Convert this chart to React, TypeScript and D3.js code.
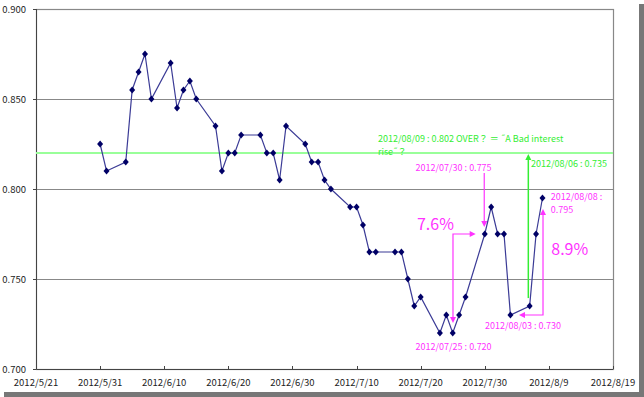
import React, { useEffect, useRef } from 'react';
import * as d3 from 'd3';

// daily closes
const dates = [
  '2012/05/31', '2012/06/01', '2012/06/04', '2012/06/05', '2012/06/06', '2012/06/07', '2012/06/08',
  '2012/06/11', '2012/06/12', '2012/06/13', '2012/06/14', '2012/06/15',
  '2012/06/18', '2012/06/19', '2012/06/20', '2012/06/21', '2012/06/22',
  '2012/06/25', '2012/06/26', '2012/06/27', '2012/06/28', '2012/06/29',
  '2012/07/02', '2012/07/03', '2012/07/04', '2012/07/05', '2012/07/06',
  '2012/07/09', '2012/07/10', '2012/07/11', '2012/07/12', '2012/07/13',
  '2012/07/16', '2012/07/17', '2012/07/18', '2012/07/19', '2012/07/20',
  '2012/07/23', '2012/07/24', '2012/07/25', '2012/07/26', '2012/07/27',
  '2012/07/30', '2012/07/31', '2012/08/01', '2012/08/02', '2012/08/03',
  '2012/08/06', '2012/08/07', '2012/08/08',
];
const values = [
  0.825, 0.81, 0.815, 0.855, 0.865, 0.875, 0.85,
  0.87, 0.845, 0.855, 0.86, 0.85,
  0.835, 0.81, 0.82, 0.82, 0.83,
  0.83, 0.82, 0.82, 0.805, 0.835,
  0.825, 0.815, 0.815, 0.805, 0.8,
  0.79, 0.79, 0.78, 0.765, 0.765,
  0.765, 0.765, 0.75, 0.735, 0.74,
  0.72, 0.73, 0.72, 0.73, 0.74,
  0.775, 0.79, 0.775, 0.775, 0.73,
  0.735, 0.775, 0.795,
];

const xTicks = ['2012/5/21', '2012/5/31', '2012/6/10', '2012/6/20', '2012/6/30', '2012/7/10', '2012/7/20', '2012/7/30', '2012/8/9', '2012/8/19'];
const yTicks = [0.7, 0.75, 0.8, 0.85, 0.9];
const threshold = 0.82;

// annotation texts (date anchor, value anchor)
const greenNotes = [
  { text: '2012/08/09 : 0.802 OVER？ ＝ ˝A Bad interest', d: '2012/07/13 08', v: 0.8261 },
  { text: 'rise˝？', d: '2012/07/13 08', v: 0.8189 },
  { text: '2012/08/06 : 0.735', d: '2012/08/06 05', v: 0.8122 },
];
const pinkNotes = [
  { text: '2012/07/30 : 0.775', d: '2012/07/19 05', v: 0.81, big: false },
  { text: '7.6%', d: '2012/07/19 10', v: 0.7775, big: true },
  { text: '2012/07/25 : 0.720', d: '2012/07/19 05', v: 0.7106, big: false },
  { text: '2012/08/03 : 0.730', d: '2012/07/30 01', v: 0.7222, big: false },
  { text: '2012/08/08 :', d: '2012/08/09 07', v: 0.7939, big: false },
  { text: '0.795', d: '2012/08/09 07', v: 0.7867, big: false },
  { text: '8.9%', d: '2012/08/09 09', v: 0.7636, big: true },
];

const App = () => {
  const ref = useRef<SVGSVGElement>(null);

  useEffect(() => {
    const W = 644;
    const H = 397;
    const svg = d3.select(ref.current).attr('width', W).attr('height', H);
    svg.selectAll('*').remove();

    const parse = d3.timeParse('%Y/%m/%d');
    const parseH = d3.timeParse('%Y/%m/%d %H');
    const data = dates.map((d, i) => ({ date: parse(d) as Date, value: values[i] }));

    const x = d3
      .scaleTime()
      .domain([parse(xTicks[0]) as Date, parse(xTicks[xTicks.length - 1]) as Date])
      .range([36, 613]);
    const y = d3.scaleLinear().domain([0.7, 0.9]).range([369, 9]);
    const font = '"Noto Sans CJK JP", "DejaVu Sans", sans-serif';

    // frame with drop shadow
    svg.append('rect').attr('x', 4).attr('y', 4).attr('width', 640).attr('height', 393).attr('fill', '#777');
    svg.append('rect').attr('x', 0).attr('y', 0).attr('width', 639).attr('height', 392).attr('fill', '#fff');

    // grid lines
    svg
      .selectAll('.grid')
      .data(yTicks.slice(1))
      .enter()
      .append('line')
      .attr('x1', x.range()[0])
      .attr('x2', x.range()[1])
      .attr('y1', (d) => y(d) + 0.5)
      .attr('y2', (d) => y(d) + 0.5)
      .attr('stroke', '#888')
      .attr('stroke-width', 1.2);

    // plot border
    svg
      .append('rect')
      .attr('x', x.range()[0] + 0.5)
      .attr('y', y(0.9) + 0.5)
      .attr('width', x.range()[1] - x.range()[0])
      .attr('height', y(0.7) - y(0.9))
      .attr('fill', 'none')
      .attr('stroke', '#888')
      .attr('stroke-width', 1.2);
    svg
      .append('path')
      .attr('d', `M${x.range()[0] + 0.5},${y(0.9)}V${y(0.7) + 0.5}H${x.range()[1]}`)
      .attr('fill', 'none')
      .attr('stroke', '#444');

    // y axis labels + ticks
    svg
      .selectAll('.ytick')
      .data(yTicks)
      .enter()
      .append('line')
      .attr('x1', x.range()[0] - 3)
      .attr('x2', x.range()[0])
      .attr('y1', (d) => y(d) + 0.5)
      .attr('y2', (d) => y(d) + 0.5)
      .attr('stroke', '#444');
    svg
      .selectAll('.ylabel')
      .data(yTicks)
      .enter()
      .append('text')
      .attr('x', 26)
      .attr('y', (d) => y(d) + 3.5)
      .attr('text-anchor', 'end')
      .style('font-family', font)
      .style('font-size', '9.5px')
      .attr('fill', '#222')
      .text((d) => d3.format('.3f')(d));

    // x axis ticks + labels
    svg
      .selectAll('.xtick')
      .data(xTicks)
      .enter()
      .append('line')
      .attr('x1', (d) => Math.round(x(parse(d) as Date)) + 0.5)
      .attr('x2', (d) => Math.round(x(parse(d) as Date)) + 0.5)
      .attr('y1', y(0.7) - 3)
      .attr('y2', y(0.7))
      .attr('stroke', '#444');
    svg
      .selectAll('.xlabel')
      .data(xTicks)
      .enter()
      .append('text')
      .attr('x', (d) => x(parse(d) as Date))
      .attr('y', 386)
      .attr('text-anchor', 'middle')
      .style('font-family', font)
      .style('font-size', '9.5px')
      .attr('fill', '#222')
      .text((d) => d);

    // threshold line
    svg
      .append('line')
      .attr('x1', x.range()[0])
      .attr('x2', x.range()[1])
      .attr('y1', y(threshold))
      .attr('y2', y(threshold))
      .attr('stroke', '#99ff99')
      .attr('stroke-width', 2);

    const arrowHead = (g, px, py, dir, color) => {
      const s = 6;
      const w = 3;
      let p = '';
      if (dir === 'up') p = `M${px},${py}L${px - w},${py + s}L${px + w},${py + s}Z`;
      if (dir === 'down') p = `M${px},${py}L${px - w},${py - s}L${px + w},${py - s}Z`;
      if (dir === 'left') p = `M${px},${py}L${px + s},${py - w}L${px + s},${py + w}Z`;
      if (dir === 'right') p = `M${px},${py}L${px - s},${py - w}L${px - s},${py + w}Z`;
      g.append('path').attr('d', p).attr('fill', color);
    };

    const ann = svg.append('g');
    const pink = '#ff33ff';
    const green = '#33ee33';
    const X = (s) => x(parseH(s) as Date);

    // green vertical arrow
    ann
      .append('line')
      .attr('x1', X('2012/08/05 19'))
      .attr('x2', X('2012/08/05 19'))
      .attr('y1', y(0.7394))
      .attr('y2', y(0.8194) + 4)
      .attr('stroke', green)
      .attr('stroke-width', 1.5);
    arrowHead(ann, X('2012/08/05 19'), y(0.8194), 'up', green);

    // pink arrow into 7/30
    ann
      .append('line')
      .attr('x1', X('2012/07/29 22'))
      .attr('x2', X('2012/07/29 22'))
      .attr('y1', y(0.8089))
      .attr('y2', y(0.7789) - 4)
      .attr('stroke', pink)
      .attr('stroke-width', 1.2);
    arrowHead(ann, X('2012/07/29 22'), y(0.7789), 'down', pink);

    // 7.6% elbow
    ann
      .append('path')
      .attr('d', `M${X('2012/07/28 14') - 4},${y(0.775)}H${X('2012/07/25 01')}V${y(0.7256) - 4}`)
      .attr('fill', 'none')
      .attr('stroke', pink)
      .attr('stroke-width', 1.2);
    arrowHead(ann, X('2012/07/28 14'), y(0.775), 'right', pink);
    arrowHead(ann, X('2012/07/25 01'), y(0.7256), 'down', pink);

    // 8.9% elbow
    ann
      .append('path')
      .attr('d', `M${X('2012/08/04 08') + 4},${y(0.73)}H${X('2012/08/08 02')}V${y(0.7889) + 4}`)
      .attr('fill', 'none')
      .attr('stroke', pink)
      .attr('stroke-width', 1.2);
    arrowHead(ann, X('2012/08/04 08'), y(0.73), 'left', pink);
    arrowHead(ann, X('2012/08/08 02'), y(0.7889), 'up', pink);

    // series line
    const line = d3
      .line<{ date: Date; value: number }>()
      .x((d) => x(d.date))
      .y((d) => y(d.value));
    svg
      .append('path')
      .datum(data)
      .attr('d', line)
      .attr('fill', 'none')
      .attr('stroke', '#3b3b96')
      .attr('stroke-width', 1.2);

    // diamond markers
    svg
      .selectAll('.pt')
      .data(data)
      .enter()
      .append('path')
      .attr('transform', (d) => `translate(${x(d.date)},${y(d.value)})`)
      .attr('d', 'M0,-3.5L3,0L0,3.5L-3,0Z')
      .attr('fill', '#000066');

    // annotation texts
    ann
      .selectAll('.gtxt')
      .data(greenNotes)
      .enter()
      .append('text')
      .attr('x', (d) => X(d.d))
      .attr('y', (d) => y(d.v))
      .style('font-family', font)
      .style('font-size', '9px')
      .attr('fill', green)
      .text((d) => d.text);
    ann
      .selectAll('.ptxt')
      .data(pinkNotes)
      .enter()
      .append('text')
      .attr('x', (d) => X(d.d))
      .attr('y', (d) => y(d.v))
      .style('font-family', font)
      .style('font-size', (d) => (d.big ? '16px' : '9px'))
      .attr('fill', pink)
      .text((d) => d.text);
  }, []);

  return <svg ref={ref} style={{ position: 'absolute', left: 0, top: 0 }}></svg>;
};

export default App;
